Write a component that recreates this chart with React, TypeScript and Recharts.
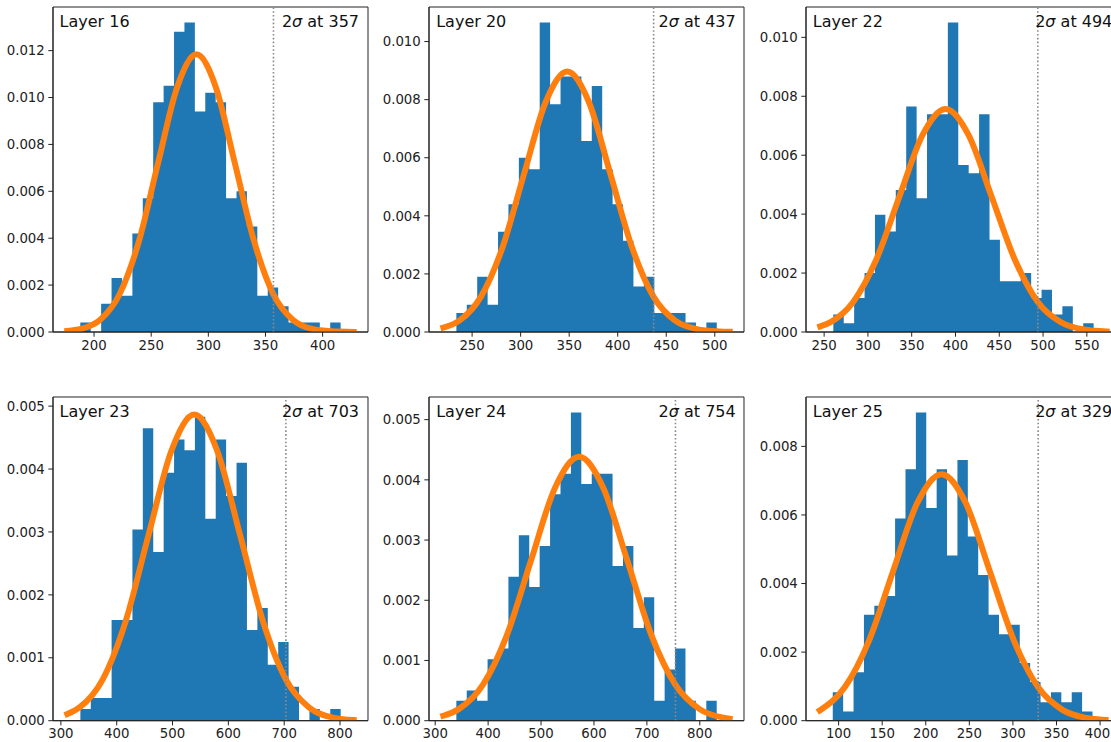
import {
  ComposedChart,
  Area,
  Line,
  XAxis,
  YAxis,
  ReferenceLine,
  ReferenceArea,
} from 'recharts';

// histogram panels, one per layer
const LAYERS = ['Layer 16', 'Layer 20', 'Layer 22', 'Layer 23', 'Layer 24', 'Layer 25'];
const TWO_SIGMA = [357, 437, 494, 703, 754, 329];
const BIN_START = [188.0, 233.8, 260.5, 334.9, 339.95, 93.3];
const BIN_WIDTH = [9.11, 10.73, 11.89, 18.65, 19.68, 11.92];

const DENSITY_16 = [0.00041, 0, 0.0012, 0.0023, 0.00155, 0.0042, 0.0057, 0.0098, 0.0105, 0.0128, 0.0132, 0.0094, 0.0102, 0.0098, 0.0057, 0.006, 0.0045, 0.00155, 0.0019, 0.0011, 0.0004, 0.0004, 0.0004, 0, 0.0004];
const DENSITY_20 = [0.00065, 0.00094, 0.0019, 0.00094, 0.00345, 0.0044, 0.006, 0.0056, 0.01066, 0.00784, 0.0088, 0.0088, 0.00658, 0.00847, 0.0056, 0.0044, 0.00314, 0.00157, 0.0019, 0.00065, 0.00065, 0.00065, 0.00033, 0, 0.00033];
const DENSITY_22 = [0.00059, 0.0003, 0.00115, 0.002, 0.00398, 0.00341, 0.00482, 0.00765, 0.00454, 0.00739, 0.00739, 0.0105, 0.00567, 0.00539, 0.00739, 0.00313, 0.00172, 0.00172, 0.002, 0.00115, 0.00143, 0.00059, 0.00087, 0, 0.0003];
const DENSITY_23 = [0.000185, 0.00036, 0.00036, 0.0016, 0.0016, 0.00304, 0.00465, 0.00268, 0.00394, 0.00447, 0.0043, 0.00483, 0.00321, 0.00447, 0.00357, 0.0041, 0.00144, 0.00179, 0.00089, 0.00125, 0.00054, 0, 0.000185, 0, 0.000185];
const DENSITY_24 = [0.00033, 0.0005, 0.00033, 0.00102, 0.0012, 0.00239, 0.00308, 0.00222, 0.0029, 0.00376, 0.0041, 0.00512, 0.00393, 0.0041, 0.0041, 0.00257, 0.0029, 0.00154, 0.00205, 0.00033, 0.00085, 0.0012, 0.00033, 0, 0.00033];
const DENSITY_25 = [0.00083, 0.00027, 0.00141, 0.00309, 0.00335, 0.00364, 0.0059, 0.00733, 0.00899, 0.0062, 0.00733, 0.00482, 0.0076, 0.00537, 0.00425, 0.00309, 0.00252, 0.0028, 0.00168, 0.00113, 0.00054, 0.00083, 0.00054, 0.00083, 0.00027];

// fitted normal curves
const CURVE_16 = [[176.6, 0.00004], [188.5, 0.00013], [205.4, 0.00052], [222.2, 0.0016], [239.1, 0.00384], [255.9, 0.00718], [272.8, 0.01045], [289.6, 0.01184], [306.5, 0.01045], [323.3, 0.00718], [340.2, 0.00384], [357.0, 0.0016], [373.9, 0.00052], [390.7, 0.00013], [407.6, 0.00003], [427.2, 0.000003]];
const CURVE_20 = [[220.4, 0.00015], [236.8, 0.00039], [259.0, 0.00121], [281.3, 0.00291], [303.5, 0.00544], [325.8, 0.00792], [348.0, 0.00897], [370.3, 0.00792], [392.5, 0.00544], [414.8, 0.00291], [437.0, 0.00121], [459.3, 0.00039], [481.5, 0.0001], [503.8, 0.00002], [515.4, 0.000008]];
const CURVE_22 = [[245.6, 0.00019], [256.9, 0.00033], [283.2, 0.00102], [309.6, 0.00246], [335.9, 0.00459], [362.3, 0.00668], [388.6, 0.00757], [415.0, 0.00668], [441.3, 0.00459], [467.7, 0.00246], [494.0, 0.00102], [520.4, 0.00033], [546.7, 0.000084], [572.7, 0.000017]];
const CURVE_23 = [[311.6, 0.000105], [334, 0.000214], [375, 0.000658], [416, 0.00158], [457, 0.00295], [498, 0.00429], [539, 0.004865], [580, 0.00429], [621, 0.00295], [662, 0.00158], [703, 0.000658], [744, 0.000214], [785, 0.000054], [824.5, 0.000011]];
const CURVE_24 = [[315.4, 0.000082], [344.5, 0.000192], [390, 0.000593], [435.5, 0.00142], [481, 0.00266], [526.5, 0.00387], [572, 0.004384], [617.5, 0.00387], [663, 0.00266], [708.5, 0.00142], [754, 0.000593], [799.5, 0.000192], [845, 0.000049], [856.4, 0.000033]];
const CURVE_25 = [[78.4, 0.0003], [107, 0.000973], [134.8, 0.00233], [162.5, 0.00436], [190.3, 0.00635], [218, 0.00719], [245.8, 0.00635], [273.5, 0.00436], [301.3, 0.00233], [329, 0.000973], [356.8, 0.000316], [384.5, 0.00008], [406.3, 0.000023]];

const X_TICKS = [
  [200, 250, 300, 350, 400],
  [250, 300, 350, 400, 450, 500],
  [250, 300, 350, 400, 450, 500, 550],
  [300, 400, 500, 600, 700, 800],
  [300, 400, 500, 600, 700, 800],
  [100, 150, 200, 250, 300, 350, 400],
];
const Y_TICKS = [
  [0, 0.002, 0.004, 0.006, 0.008, 0.01, 0.012],
  [0, 0.002, 0.004, 0.006, 0.008, 0.01],
  [0, 0.002, 0.004, 0.006, 0.008, 0.01],
  [0, 0.001, 0.002, 0.003, 0.004, 0.005],
  [0, 0.001, 0.002, 0.003, 0.004, 0.005],
  [0, 0.002, 0.004, 0.006, 0.008],
];

const DENSITIES = [DENSITY_16, DENSITY_20, DENSITY_22, DENSITY_23, DENSITY_24, DENSITY_25];
const CURVES = [CURVE_16, CURVE_20, CURVE_22, CURVE_23, CURVE_24, CURVE_25];

// layout (axes limits and boxes in page pixels)
const X_DOMAIN = [[164.1, 439.7], [205.6, 530.1], [229.3, 589.0], [285.9, 850.1], [288.3, 883.5], [62.6, 424.0]];
const Y_MAX = [0.01386, 0.01119, 0.01103, 0.005145, 0.005376, 0.00944];
const COL_LEFT = [52.5, 429.2, 805.8];
const ROW_TOP = [7.3, 397.3];
const ROW_H = [325, 323.7];
const PLOT_W = 315;
const Y_AXIS_W = 50;
const X_AXIS_H = 25;
const M_TOP = 5;
const M_RIGHT = 10;
const PAGE_W = 1111;

const INK = '#222';
const FONT = 'DejaVu Sans';
const TICK_FONT = 13.3;

const histData = (start: number, width: number, heights: number[]) => {
  const pts = heights.map((h, i) => ({ x: start + i * width, h }));
  pts.push({ x: start + heights.length * width, h: heights[heights.length - 1] });
  return pts;
};

// x tick label, nudged inward if it would run past the page edge
const XTick = (props: any) => {
  const { x, y, payload, pageLeft } = props;
  const label = String(payload.value);
  const half = (label.length * 0.636 * TICK_FONT) / 2;
  const cx = Math.min(x, PAGE_W - pageLeft - half - 1);
  return (
    <text x={cx} y={y} dy="0.71em" textAnchor="middle" fill={INK} fontSize={TICK_FONT} fontFamily={FONT}>
      {label}
    </text>
  );
};

const Panel = ({ i }: { i: number }) => {
  const col = i % 3;
  const row = Math.floor(i / 3);
  const axL = COL_LEFT[col];
  const axT = ROW_TOP[row];
  const plotH = ROW_H[row];
  const w = Y_AXIS_W + PLOT_W + M_RIGHT;
  const h = M_TOP + plotH + X_AXIS_H;
  const chartLeft = axL - Y_AXIS_W;
  const bars = histData(BIN_START[i], BIN_WIDTH[i], DENSITIES[i]);
  const curve = CURVES[i].map(([x, y]) => ({ x, y }));
  const tickStyle = { fill: INK, fontSize: TICK_FONT, fontFamily: FONT };

  return (
    <>
      <div style={{ position: 'absolute', left: chartLeft, top: axT - M_TOP }}>
        <ComposedChart width={w} height={h} margin={{ top: M_TOP, right: M_RIGHT, bottom: 0, left: 0 }}>
          <XAxis
            type="number"
            dataKey="x"
            domain={X_DOMAIN[i]}
            ticks={X_TICKS[i]}
            allowDataOverflow
            interval={0}
            height={X_AXIS_H}
            stroke={INK}
            tickSize={4.7}
            tickMargin={3.5}
            tick={(p: any) => <XTick {...p} pageLeft={chartLeft} />}
          />
          <YAxis
            type="number"
            domain={[0, Y_MAX[i]]}
            ticks={Y_TICKS[i]}
            allowDataOverflow
            interval={0}
            width={Y_AXIS_W}
            stroke={INK}
            tickSize={4.7}
            tickMargin={3.5}
            tick={tickStyle}
            tickFormatter={(v: number) => v.toFixed(3)}
          />
          <Area
            data={bars}
            dataKey="h"
            type="stepAfter"
            fill="#1f77b4"
            fillOpacity={1}
            stroke="none"
            isAnimationActive={false}
          />
          <Line
            data={curve}
            dataKey="y"
            type="monotone"
            stroke="#ff7f0e"
            strokeWidth={6}
            strokeLinecap="square"
            dot={false}
            activeDot={false}
            isAnimationActive={false}
          />
          <ReferenceLine x={TWO_SIGMA[i]} stroke="#8a8a8a" strokeWidth={1.6} strokeDasharray="1.6 2.2" />
          {/* axes frame (top and right spines) */}
          <ReferenceArea
            x1={X_DOMAIN[i][0]}
            x2={X_DOMAIN[i][1]}
            y1={0}
            y2={Y_MAX[i]}
            fill="none"
            fillOpacity={0}
            stroke={INK}
            strokeWidth={1}
            ifOverflow="visible"
          />
        </ComposedChart>
      </div>
      <div
        style={{
          position: 'absolute',
          left: axL + 7,
          top: axT + 7,
          fontFamily: FONT,
          fontSize: 16,
          lineHeight: '16px',
          color: '#111',
          whiteSpace: 'nowrap',
        }}
      >
        {LAYERS[i]}
      </div>
      <div
        style={{
          position: 'absolute',
          left: axL + PLOT_W - 8.5 - 200,
          width: 200,
          top: axT + 7,
          textAlign: 'right',
          fontFamily: FONT,
          fontSize: 16,
          lineHeight: '16px',
          color: '#111',
          whiteSpace: 'nowrap',
        }}
      >
        2<i>σ</i> at {TWO_SIGMA[i]}
      </div>
    </>
  );
};

export default function App() {
  return (
    <div
      style={{
        position: 'absolute',
        left: 0,
        top: 0,
        width: PAGE_W,
        height: 742,
        overflow: 'hidden',
        background: '#fff',
      }}
    >
      {LAYERS.map((_, i) => (
        <Panel key={i} i={i} />
      ))}
    </div>
  );
}
